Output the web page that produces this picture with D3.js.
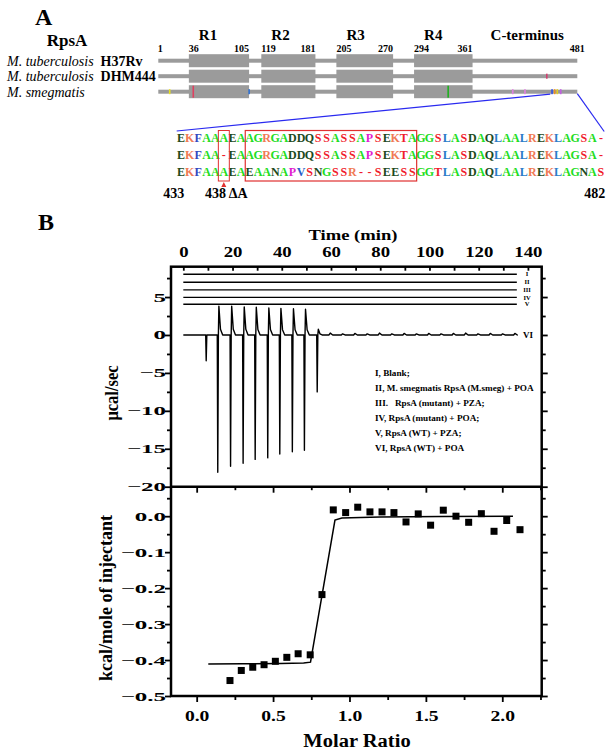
<!DOCTYPE html>
<html><head><meta charset="utf-8">
<script src="https://cdn.jsdelivr.net/npm/d3@7"></script>
<style>
body{margin:0;background:#fff}
svg{display:block}
text{font-family:"Liberation Serif","Times New Roman",Times,serif}
</style>
</head><body>
<svg id="c" width="612" height="752"></svg>
<script>
// ================= DATA =================
// Panel A – domain architecture
const speciesNames = ["M. tuberculosis", "M. tuberculosis", "M. smegmatis"];
const strainNames = ["H37Rv", "DHM444", ""];
const domainNames = ["R1", "R2", "R3", "R4"];
const domainStart = [36, 119, 205, 294];
const domainEnd = [105, 181, 270, 361];
const proteinStart = 1;
const proteinEnd = 481;
const ctermLabel = "C-terminus";
// sequence differences marked on the bars (row index, residue, colour)
const variantRow = [1, 2, 2, 2, 2, 2, 2, 2, 2, 2, 2];
const variantRes = [446, 14, 41, 105, 333, 407, 421, 452, 455, 458, 462];
const variantColor = ["#d04070", "#e8e020", "#e04060", "#3070d0", "#20b020", "#e080e0", "#e080e0", "#3050e0", "#f09020", "#e0d020", "#c060e0"];
// Panel A – C-terminal alignment
const alignStart = 433;
const alignEnd = 482;
const zoomFrom = 450;
const deletionRes = 438;
const boxedFrom = 441;
const boxedTo = 460;
const alignRows = [
  "EKFAAAEAAGRGADDQSSASSAPSEKTAGGSLASDAQLAALREKLAGSA-",
  "EKFAA-EAAGRGADDQSSASSAPSEKTAGGSLASDAQLAALREKLAGSA-",
  "EKFAAAEAEAANAPVSNGSSR--SEESSGGTLASDAQLAALREKLAGNAS"
];
const residueColor = {
  E: "#1d4a1d", D: "#1d4a1d", Q: "#1d4a1d", N: "#1d4a1d",
  K: "#f07a55", R: "#f07a55",
  F: "#3448c0",
  A: "#22dd22", G: "#22dd22",
  S: "#f01c2c", T: "#f01c2c", "-": "#f01c2c",
  P: "#e020d0",
  L: "#2a7cc8", V: "#2a5cc8"
};

// Panel B – raw ITC thermogram
const timeTicks = [0, 20, 40, 60, 80, 100, 120, 140];
const timeMinor = [10, 30, 50, 70, 90, 110, 130];
const powerTicks = [5, 0, -5, -10, -15, -20];
const powerMinor = [7.5, 2.5, -2.5, -7.5, -12.5, -17.5];
const controlLabels = ["I", "II", "III", "IV", "V"];
const controlOffsets = [8.0, 6.95, 5.95, 4.95, 4.05];
const traceStart = 0;
const traceEnd = 135.5;
const injTimes = [9.1, 13.8, 19.0, 24.1, 29.0, 34.1, 39.0, 44.1, 49.0, 54.2];
const injMin = [-3.4, -18.1, -17.3, -16.9, -16.4, -16.2, -15.7, -15.4, -15.2, -7.5];
const injMax = [0, 3.8, 3.8, 3.7, 3.65, 3.55, 3.5, 3.45, 3.4, 0.75];
const lateInjTimes = [59.2, 64.2, 69.2, 74.2, 79.2, 84.2, 89.2, 94.2, 99.2, 104.2, 109.2, 114.2, 119.2, 124.2, 129.2, 134.2];
const lateInjMax = [0.25, 0.15, 0.2, 0.15, 0.25, 0.15, 0.2, 0.15, 0.2, 0.15, 0.2, 0.25, 0.15, 0.2, 0.15, 0.2];
const legendLines = [
  "I, Blank;",
  "II, M. smegmatis RpsA (M.smeg) + POA",
  "III.   RpsA (mutant) + PZA;",
  "IV, RpsA (mutant) + POA;",
  "V, RpsA (WT) + PZA;",
  "VI, RpsA (WT) + POA"
];

// Panel B – integrated heats
const ratioTicks = [0.0, 0.5, 1.0, 1.5, 2.0];
const ratioMinor = [0.25, 0.75, 1.25, 1.75, 2.25];
const heatTicks = [0.0, -0.1, -0.2, -0.3, -0.4, -0.5];
const heatMinor = [0.05, -0.05, -0.15, -0.25, -0.35, -0.45];
const molarRatio = [0.218, 0.292, 0.367, 0.441, 0.515, 0.590, 0.664, 0.743, 0.820, 0.894, 0.975, 1.054, 1.134, 1.213, 1.291, 1.370, 1.450, 1.531, 1.614, 1.697, 1.780, 1.863, 1.946, 2.029, 2.116];
const heat = [-0.457, -0.429, -0.420, -0.413, -0.4035, -0.3925, -0.3825, -0.3855, -0.218, 0.0175, 0.010, 0.025, 0.012, 0.012, 0.010, -0.016, 0.0064, -0.025, 0.0167, 0.0, -0.017, 0.007, -0.042, -0.012, -0.0375];
const fitRatio = [0.076, 0.30, 0.55, 0.70, 0.745, 0.905, 0.95, 1.2, 1.6, 2.07];
const fitHeat = [-0.411, -0.4105, -0.4095, -0.4085, -0.406, -0.011, -0.005, -0.002, -0.001, 0.0];

// ================= DRAW =================
const svg = d3.select("#c");
const BOLD = "bold";

// ---------- Panel A ----------
const gA = svg.append("g");
gA.append("text").attr("x", 35).attr("y", 25).attr("font-size", 24).attr("font-weight", BOLD).text("A");
gA.append("text").attr("x", 67).attr("y", 46).attr("text-anchor", "middle").attr("font-size", 17).attr("font-weight", BOLD).text("RpsA");

const xRes = d3.scaleLinear().domain([proteinStart, proteinEnd]).range([158.3, 577.3]);
const yRow = d3.scalePoint().domain(d3.range(speciesNames.length)).range([60.7, 91.7]);
const barGrey = "#9b9b9b";

speciesNames.forEach((n, i) => {
  const t = gA.append("text").attr("x", 7).attr("y", yRow(i) + 4.8).attr("font-size", 14);
  t.append("tspan").attr("font-style", "italic").text(n);
  if (strainNames[i]) t.append("tspan").attr("font-weight", BOLD).text("\u00a0\u00a0" + strainNames[i]);
});

gA.selectAll("rect.backbone").data(d3.range(speciesNames.length)).join("rect")
  .attr("class", "backbone")
  .attr("x", xRes(proteinStart)).attr("width", xRes(proteinEnd) - xRes(proteinStart))
  .attr("y", i => yRow(i) - 2).attr("height", 4).attr("fill", barGrey);

speciesNames.forEach((n, i) => {
  gA.selectAll(null).data(domainNames).join("rect")
    .attr("x", (d, j) => xRes(domainStart[j]))
    .attr("width", (d, j) => xRes(domainEnd[j]) - xRes(domainStart[j]))
    .attr("y", yRow(i) - 6.5).attr("height", 13).attr("fill", barGrey);
});

gA.selectAll(null).data(variantRes).join("rect")
  .attr("x", (d) => xRes(d) - 0.75).attr("width", 1.6)
  .attr("y", (d, k) => yRow(variantRow[k]) - (d === 41 || d === 333 ? 6 : 2.5))
  .attr("height", (d) => (d === 41 || d === 333 ? 12 : 5))
  .attr("fill", (d, k) => variantColor[k]);

// domain labels and positions
gA.selectAll(null).data(domainNames).join("text")
  .attr("x", (d, j) => xRes(domainStart[j]) + 10).attr("y", 40)
  .attr("font-size", 15).attr("font-weight", BOLD).text(d => d);
gA.append("text").attr("x", xRes(domainEnd[3]) + 18).attr("y", 40)
  .attr("font-size", 15).attr("font-weight", BOLD).text(ctermLabel);
gA.selectAll(null).data(domainStart).join("text")
  .attr("x", d => xRes(d)).attr("y", 51.5).attr("font-size", 10).attr("font-weight", BOLD).text(d => d);
gA.selectAll(null).data(domainEnd).join("text")
  .attr("x", d => xRes(d)).attr("y", 51.5).attr("text-anchor", "end").attr("font-size", 10).attr("font-weight", BOLD).text(d => d);
gA.selectAll(null).data([proteinStart, proteinEnd]).join("text")
  .attr("x", d => xRes(d) + (d === proteinStart ? 2 : 0)).attr("y", 51.5).attr("text-anchor", "middle")
  .attr("font-size", 10).attr("font-weight", BOLD).text(d => d);

// alignment
const colX = d3.scaleLinear().domain([alignStart, alignEnd + 1]).range([176.7, 605.2]);
const colW = colX(alignStart + 1) - colX(alignStart);
const yAl = d3.scalePoint().domain(d3.range(alignRows.length)).range([142.3, 175.7]);

gA.append("line").attr("x1", xRes(zoomFrom)).attr("y1", yRow(2) + 2.5).attr("x2", colX(alignStart)).attr("y2", 131)
  .attr("stroke", "#2a2af0").attr("stroke-width", 1.2);
gA.append("line").attr("x1", xRes(proteinEnd)).attr("y1", yRow(2) + 2).attr("x2", colX(alignEnd + 1) - 1).attr("y2", 131.5)
  .attr("stroke", "#2a2af0").attr("stroke-width", 1.2);

alignRows.forEach((row, r) => {
  gA.selectAll(null).data(row.split("")).join("text")
    .attr("x", (c, i) => colX(alignStart + i) + colW / 2)
    .attr("y", yAl(r)).attr("text-anchor", "middle")
    .attr("font-size", 12).attr("font-weight", BOLD)
    .attr("fill", c => residueColor[c] || "#000").text(c => c);
});

const boxTop = 130.5, boxBot = 181;
gA.append("rect").attr("x", colX(deletionRes) - 1.2).attr("width", colW + 2.4)
  .attr("y", boxTop).attr("height", boxBot - boxTop).attr("fill", "none").attr("stroke", "#e03030").attr("stroke-width", 1);
gA.append("rect").attr("x", colX(boxedFrom)).attr("width", colX(boxedTo + 1) - colX(boxedFrom))
  .attr("y", boxTop).attr("height", boxBot - boxTop).attr("fill", "none").attr("stroke", "#e03030").attr("stroke-width", 1.2);
const ax = colX(deletionRes) + colW / 2;
gA.append("path").attr("d", `M${ax},${boxBot + 1}L${ax - 2.5},${boxBot + 6}L${ax + 2.5},${boxBot + 6}Z`).attr("fill", "#e03030");

gA.append("text").attr("x", colX(alignStart) - 3).attr("y", 198).attr("text-anchor", "middle")
  .attr("font-size", 14).attr("font-weight", BOLD).text(alignStart);
gA.append("text").attr("x", colX(deletionRes) - 14.5).attr("y", 198)
  .attr("font-size", 14).attr("font-weight", BOLD).text(deletionRes + " \u0394A");
gA.append("text").attr("x", colX(alignEnd + 1)).attr("y", 198).attr("text-anchor", "end")
  .attr("font-size", 14).attr("font-weight", BOLD).text(alignEnd);

// ---------- Panel B ----------
const gB = svg.append("g");
gB.append("text").attr("x", 38).attr("y", 230).attr("font-size", 24).attr("font-weight", BOLD).text("B");

const L = 171, R = 541.7, T1 = 266.7, MID = 486.7, B2 = 696;
const xT = d3.scaleLinear().domain([-5, 145.6]).range([L, R]);
const yP = d3.scaleLinear().domain([-20, 9]).range([MID, T1]);
const xM = d3.scaleLinear().domain([-0.168, 2.258]).range([L, R]);
const yH = d3.scaleLinear().domain([-0.5, 0.082]).range([B2, MID]);

function styleAxis(g, size, sx) {
  g.select(".domain").remove();
  g.selectAll("line").attr("stroke", "#000").attr("stroke-width", 1.8);
  g.attr("font-family", null).attr("font-size", null);
  g.selectAll("text").each(function () {
    const t = d3.select(this);
    const x = +t.attr("x") || 0;
    t.attr("x", x / sx).attr("transform", `scale(${sx},1)`)
      .attr("font-size", size).attr("font-weight", BOLD).attr("fill", "#000");
  });
}
function addAxis(axisFn, scale, pos, vals, size, inner, pad, fmt, fs, sx) {
  const a = axisFn(scale).tickValues(vals).tickSize(inner).tickPadding(pad)
    .tickFormat(fmt ? fmt : () => "");
  const g = gB.append("g").attr("transform", pos).call(a);
  styleAxis(g, fs || 12, sx || 1);
  return g;
}

// top plot axes
addAxis(d3.axisTop, xT, `translate(0,${T1})`, timeTicks, 0, -4, 10, d3.format("d"), 15, 1.25);
addAxis(d3.axisTop, xT, `translate(0,${T1})`, timeMinor, 0, -4, 0);
addAxis(d3.axisLeft, yP, `translate(${L},0)`, powerTicks, 0, 6, -1, d3.format("d"), 12.5, 2.0);
addAxis(d3.axisLeft, yP, `translate(${L},0)`, powerMinor, 0, 4, 0);
addAxis(d3.axisRight, yP, `translate(${R},0)`, powerTicks, 0, 6, 0);
addAxis(d3.axisRight, yP, `translate(${R},0)`, powerMinor, 0, 4, 0);
// bottom plot axes
addAxis(d3.axisBottom, xM, `translate(0,${B2})`, ratioTicks, 0, 6, 9.5, d3.format(".1f"), 14, 1.4);
addAxis(d3.axisBottom, xM, `translate(0,${B2})`, ratioMinor, 0, 4, 0);
addAxis(d3.axisBottom, xM, `translate(0,${MID})`, ratioTicks, 0, 6, 0);
addAxis(d3.axisBottom, xM, `translate(0,${MID})`, ratioMinor, 0, 3.5, 0);
addAxis(d3.axisLeft, yH, `translate(${L},0)`, heatTicks, 0, 6, -1, d3.format(".1f"), 12.5, 2.0);
addAxis(d3.axisLeft, yH, `translate(${L},0)`, heatMinor, 0, 4, 0);
addAxis(d3.axisRight, yH, `translate(${R},0)`, heatTicks, 0, 6, 0);
addAxis(d3.axisRight, yH, `translate(${R},0)`, heatMinor, 0, 4, 0);

// frames
gB.append("rect").attr("x", L).attr("y", T1).attr("width", R - L).attr("height", B2 - T1)
  .attr("fill", "none").attr("stroke", "#000").attr("stroke-width", 2.5);
gB.append("line").attr("x1", L).attr("x2", R).attr("y1", MID).attr("y2", MID)
  .attr("stroke", "#000").attr("stroke-width", 2.5);

// titles
gB.append("text").attr("transform", "translate(353,240) scale(1.2,1)").attr("text-anchor", "middle")
  .attr("font-size", 15.5).attr("font-weight", BOLD).text("Time (min)");
gB.append("text").attr("transform", "translate(357,746.5) scale(1.08,1)").attr("text-anchor", "middle")
  .attr("font-size", 19).attr("font-weight", BOLD).text("Molar Ratio");
gB.append("text").attr("transform", "translate(118,393) scale(1.1,1) rotate(-90)").attr("text-anchor", "middle")
  .attr("font-size", 16.5).attr("font-weight", BOLD).text("\u03bccal/sec");
gB.append("text").attr("transform", "translate(111.5,598) scale(1.05,1) rotate(-90)").attr("text-anchor", "middle")
  .attr("font-size", 18).attr("font-weight", BOLD).text("kcal/mole of injectant");

// control baselines I–V
const lineGen = d3.line().x(d => xT(d[0])).y(d => yP(d[1]));
controlOffsets.forEach((v, i) => {
  gB.append("path").attr("d", lineGen([[traceStart, v], [traceEnd, v]]))
    .attr("fill", "none").attr("stroke", "#000").attr("stroke-width", 1.4);
  gB.append("text").attr("x", 527).attr("y", yP(v) + 2.2).attr("text-anchor", "middle")
    .attr("font-size", 6.5).attr("font-weight", BOLD).text(controlLabels[i]);
});

// VI trace
const tracePts = [[traceStart, 0]];
injTimes.forEach((t, i) => {
  tracePts.push([t, 0], [t + 0.2, injMin[i]], [t + 0.45, 0], [t + 0.65, injMax[i]], [t + 1.3, injMax[i] * 0.2], [t + 2.2, 0]);
});
lateInjTimes.forEach((t, i) => {
  tracePts.push([t, 0], [t + 0.5, lateInjMax[i]], [t + 1.5, 0]);
});
tracePts.push([traceEnd, 0]);
gB.append("path").attr("d", lineGen(tracePts)).attr("fill", "none")
  .attr("stroke", "#000").attr("stroke-width", 1.4).attr("stroke-linejoin", "round");
gB.append("text").attr("x", 528).attr("y", yP(0) + 3.5).attr("text-anchor", "middle")
  .attr("font-size", 9).attr("font-weight", BOLD).text("VI");

// legend
const yLeg = d3.scalePoint().domain(d3.range(legendLines.length)).range([376, 451]);
gB.selectAll(null).data(legendLines).join("text")
  .attr("transform", (d, i) => `translate(375,${yLeg(i)}) scale(1.15,1)`)
  .attr("font-size", 8).attr("font-weight", BOLD).attr("xml:space", "preserve")
  .style("white-space", "pre").text(d => d);

// integrated heats
const fitLine = d3.line().x((d, i) => xM(fitRatio[i])).y((d, i) => yH(fitHeat[i]));
gB.append("path").attr("d", fitLine(fitRatio)).attr("fill", "none").attr("stroke", "#000").attr("stroke-width", 1.5);
const sq = 7;
gB.selectAll(null).data(molarRatio).join("rect")
  .attr("x", d => xM(d) - sq / 2).attr("y", (d, i) => yH(heat[i]) - sq / 2)
  .attr("width", sq).attr("height", sq).attr("fill", "#000");
</script>
</body></html>
